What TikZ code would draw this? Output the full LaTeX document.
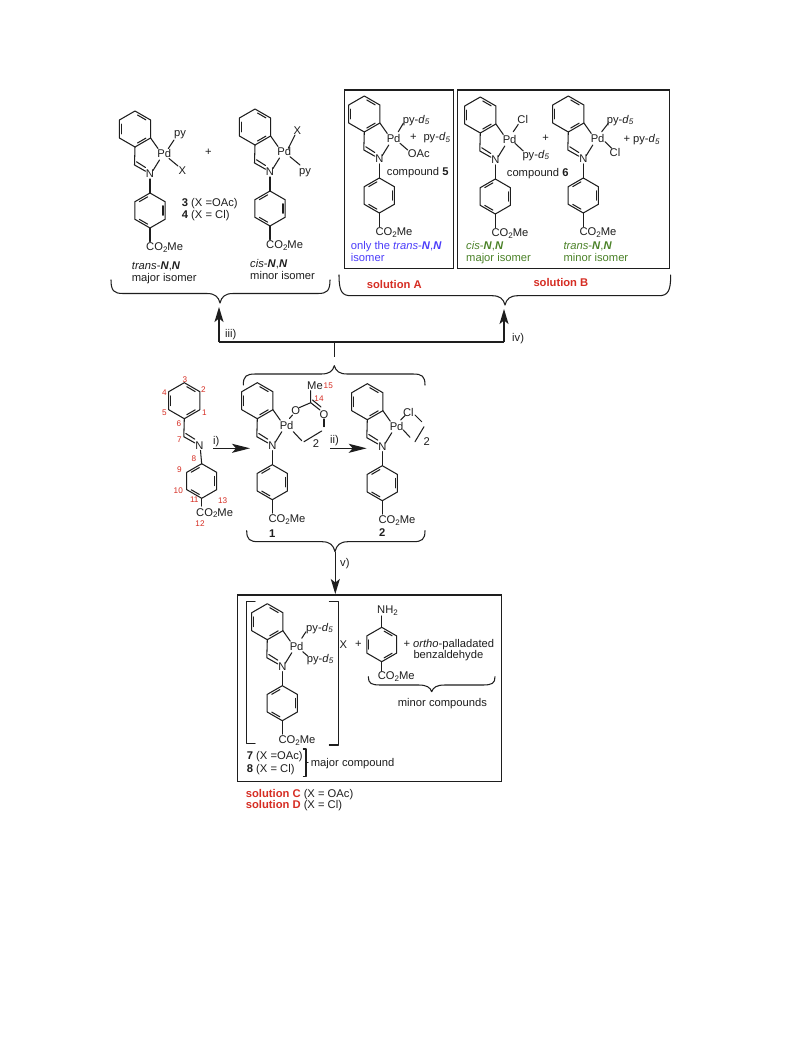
\documentclass[tikz,border=0pt]{standalone}
\usepackage{fontspec}
\setmainfont{Liberation Sans}
\usetikzlibrary{arrows.meta,calc}
\definecolor{redlab}{RGB}{214,45,35}
\definecolor{bluelab}{RGB}{75,60,250}
\definecolor{greenlab}{RGB}{75,130,40}
\definecolor{inkc}{RGB}{30,30,30}
\newcommand{\cotwome}{CO\raisebox{-.28ex}{\fontsize{8}{8}\selectfont 2}Me}
\newcommand{\pyd}{py-\textit{d}\raisebox{-.28ex}{\fontsize{8}{8}\selectfont\textit{5}}}
\newcommand{\NN}{\textbf{\textit{N}},\textbf{\textit{N}}}
\newcommand{\lab}[4][]{\node[txt,anchor=base west,#1] at (#2,#3+3.7) {#4};}
\newcommand{\cen}[4][]{\node[txt,anchor=base,#1] at (#2,#3+3.7) {#4};}
\newcommand{\num}[3]{\node[numlab] at (#1,#2) {#3};}
% hexagon: centre, radius, start angles of the double-bond edges
\newcommand{\bz}[4]{\begin{scope}[shift={(#1,#2)}]
  \draw[bond] (30:#3)--(90:#3)--(150:#3)--(210:#3)--(270:#3)--(330:#3)--cycle;
  \foreach \a in {#4}{\draw[bond] (\a+10:0.79*#3)--(\a+50:0.79*#3);}
\end{scope}}
% upper half: benzene ring, imine, N
\newcommand{\skeltop}[3]{\begin{scope}[shift={(#2,#3)}]
  \bz{-15}{-45}{18}{150,270,30}
  \draw[bond] (-15,-27)--(-15.5,-9)--(-4.5,-2.8);
  \draw[bond] (-13.5,-12.2)--(-4.5,-6.5);
  \node[txt] (#1N) at (0,0) {N};
\end{scope}}
% benzylidene-aniline skeleton, N at #2,#3
\newcommand{\skel}[3]{\skeltop{#1}{#2}{#3}\begin{scope}[shift={(#2,#3)}]
  \draw[bond] (0,5)--(0,19);
  \bz{0}{36.5}{17.5}{210,330,90}
  \draw[bond] (0,54)--(0,67.5);
  \node[txt,anchor=base west] (#1E) at (-4,76.7) {\cotwome};
\end{scope}}
\newcommand{\pd}[3]{\begin{scope}[shift={(#2,#3)}]
  \node[txt] (#1Pd) at (14.3,-20.5) {Pd};
  \draw[bond] (0.6,-36)--(8,-25.5);
  \draw[bond] (3,-3.5)--(9.5,-14);
\end{scope}}
\newcommand{\brc}[6]{% x1, xmid, x2, yend, ybar, ytip
  \draw[bond] (#1,#4) .. controls (#1,{#4+0.8*(#5-#4)}) and ({#1+3},#5) .. ({#1+12},#5)
    -- ({#2-13},#5) .. controls ({#2-5},#5) and ({#2-1.5},{#5+0.35*(#6-#5)}) .. (#2,#6)
    .. controls ({#2+1.5},{#5+0.35*(#6-#5)}) and ({#2+5},#5) .. ({#2+13},#5)
    -- ({#3-12},#5) .. controls ({#3-3},#5) and (#3,{#4+0.8*(#5-#4)}) .. (#3,#4);}
\tikzset{
  bond/.style={draw=inkc,line width=1.05pt,line join=round,line cap=round},
  conn/.style={draw=inkc,line width=1.2pt,line join=round},
  frame/.style={draw=inkc,line width=1.15pt},
  txt/.style={inner sep=0pt,text=inkc,font=\fontsize{11.2}{12}\selectfont},
  numlab/.style={inner sep=0pt,text=redlab,font=\fontsize{8.2}{9}\selectfont},
  rxn/.style={conn,-{Stealth[length=15pt,width=9pt,inset=3.5pt]}},
  rxnh/.style={conn,-{Stealth[length=18pt,width=9pt,inset=4pt]}},
}
\begin{document}
\begin{tikzpicture}[x=1pt,y=-1pt]
\useasboundingbox[fill=white] (0,0) rectangle (793,1057);

% --- frames
\draw[frame] (344.3,90) rectangle (453.3,268.3);
\draw[frame] (457.7,90) rectangle (669.3,268.3);
\draw[frame] (237.7,595) rectangle (501.7,781.7);

% --- isomers 3/4
\skel{a}{150}{174}\pd{a}{150}{174}
\draw[bond] (168.3,148.5)--(174,140); \draw[bond] (169,158.5)--(178,166);
\cen{180}{133}{py}\cen{182.3}{171}{X}\cen{208.3}{151.7}{+}
\lab{181.7}{202.7}{\textbf{3} (X =OAc)}\lab{181.7}{215}{\textbf{4} (X = Cl)}
\lab{131.7}{265.7}{\textit{trans}-\NN}\lab{131.7}{277.3}{major isomer}
\skel{b}{270}{172}\pd{b}{270}{172}
\draw[bond] (288.3,148.3)--(295,135); \draw[bond] (290,156.7)--(300,165);
\cen{297.3}{131}{X}\cen{305}{170.7}{py}
\lab{250}{264}{\textit{cis}-\NN}\lab{250}{275.7}{minor isomer}

% --- compound 5
\skel{c}{379.3}{159}\pd{c}{379.3}{159}
\draw[bond] (398.3,131.7)--(403.3,123.3); \draw[bond] (400,143.3)--(407.7,150);
\lab{402.7}{119.3}{\pyd}\cen{413.3}{136.7}{+}\lab{423.3}{136.7}{\pyd}\lab{407.7}{153.3}{OAc}
\lab{386.7}{171.7}{compound \textbf{5}}
\lab[text=bluelab]{350.7}{246}{only the \textit{trans}-\NN}\lab[text=bluelab]{350.7}{257.7}{isomer}

% --- compound 6
\skel{d}{495.3}{160}\pd{d}{495.3}{160}
\draw[bond] (513.3,131.7)--(518.3,124.3); \draw[bond] (515,143.3)--(523.3,151);
\cen{522.7}{119.3}{Cl}\lab{522.3}{154.3}{\pyd}\cen{545.7}{137.7}{+}
\lab{506.7}{173}{compound \textbf{6}}
\lab[text=greenlab]{466}{246}{\textit{cis}-\NN}\lab[text=greenlab]{466}{257.7}{major isomer}
\skel{e}{583.3}{159}\pd{e}{583.3}{159}
\draw[bond] (601.7,131.7)--(608.3,123.3); \draw[bond] (605,141.7)--(611.7,148.3);
\lab{606.7}{119.3}{\pyd}\cen{615}{152.7}{Cl}\lab{623.3}{139}{+ \pyd}
\lab[text=greenlab]{563.3}{246}{\textit{trans}-\NN}\lab[text=greenlab]{563.3}{257.7}{minor isomer}

\lab[text=redlab,font=\fontsize{11.2}{12}\selectfont\bfseries]{366.7}{284.3}{solution A}
\lab[text=redlab,font=\fontsize{11.2}{12}\selectfont\bfseries]{533.3}{282.3}{solution B}

% --- braces
\brc{111}{220}{330}{280}{293.5}{303}
\brc{339}{505}{670.7}{275}{295.7}{305}
\brc{243.3}{334.3}{425}{385}{374}{365.7}
\brc{246.7}{335}{425}{530.7}{541.7}{551.7}
\brc{368.3}{431.7}{495}{676.7}{685}{691.7}

% --- connectors
\coordinate (upL) at (219,342);
\coordinate (upR) at (504,342);
\coordinate (tipL) at (219,307);
\coordinate (tipR) at (504,309);
\coordinate (stemT) at (334.3,343);
\coordinate (stemB) at (334.3,357);
\coordinate (vS) at (335.3,552);
\coordinate (vE) at (335.3,594);
\coordinate (iS) at (213.3,448.3);
\coordinate (iE) at (250,448.3);
\coordinate (iiS) at (330,448.3);
\coordinate (iiE) at (366.7,448.3);
\draw[conn] (upL)--(upR);
\draw[conn] (stemT)--(stemB);
\draw[rxn] (upL)--(tipL);
\draw[rxn] (upR)--(tipR);
\draw[rxn] (vS)--(vE);
\draw[rxnh] (iS)--(iE);
\draw[rxnh] (iiS)--(iiE);
\lab{225}{333.5}{iii)}\lab{512}{338}{iv)}\lab{340}{562.7}{v)}
\lab{213}{441}{i)}\lab{330}{440}{ii)}

% --- free imine
\skeltop{f}{199.3}{445.7}
\draw[bond] (200.5,450.5)--(201.7,464);
\bz{201.7}{481}{17.3}{210,330,90}
\draw[bond] (201.7,498.3)--(201.7,506);
\node[txt,anchor=base west] (fE) at (196,516) {\cotwome};
\num{185}{379.3}{3}\num{203.3}{389.3}{2}\num{164.3}{393}{4}\num{164.3}{412.3}{5}
\num{204.3}{412.7}{1}\num{179}{424}{6}\num{179.3}{440}{7}\num{194}{459}{8}
\num{179.3}{470}{9}\num{178.3}{490.7}{10}\num{194.3}{500}{11}\num{222.7}{501}{13}
\num{200}{524}{12}

% --- compound 1
\skel{g}{272.3}{445.7}\pd{g}{272.3}{445.7}
\num{328.3}{386}{15}\num{319}{398.3}{14}
\cen{315}{385.3}{Me}\cen{295.7}{410.7}{O}\cen{324}{414.3}{O}
\draw[bond] (289.5,418.5)--(292.5,415);
\draw[bond] (299.5,407.5)--(310.7,402.7)--(310.7,390.7);
\draw[bond] (310.7,402.7)--(320,410);
\draw[bond] (312.5,400)--(321,407);
\draw[bond] (324,419)--(324,426.7);
\draw[bond] (293.3,431.7)--(301.7,440.7);
\draw[bond] (304,441.7)--(321.7,431);
\cen{316}{443.3}{2}
\cen{272.3}{534}{\textbf{1}}

% --- compound 2
\skel{h}{382.3}{446.7}\pd{h}{382.3}{446.7}
\cen{408.3}{412.7}{Cl}
\draw[bond] (400.7,420)--(405,415.5);
\draw[bond] (415,415)--(421.7,421.7);
\draw[bond] (403.3,430)--(410,437.3);
\draw[bond] (415,441.7)--(424,426.7);
\cen{426.7}{441.7}{2}
\cen{382.3}{532.7}{\textbf{2}}

% --- box C
\skel{k}{282.3}{666.7}\pd{k}{282.3}{666.7}
\draw[bond] (301.7,638.3)--(306,631.7); \draw[bond] (302.7,651.7)--(307.7,656);
\lab{306}{627.3}{\pyd}\lab{306.7}{658.3}{\pyd}
\draw[bond] (255,601.7)--(246.7,601.7)--(246.7,743.3)--(255,743.3);
\draw[bond] (329.3,601.7)--(338.3,601.7)--(338.3,745)--(329.3,745);
\cen{343.3}{644.3}{X}\cen{358.3}{643.3}{+}
\lab{403.3}{643.3}{+ \textit{ortho}-palladated}\lab{413.3}{655}{benzaldehyde}
\node[txt,anchor=base west] (nh) at (377,613.5) {NH\raisebox{-.28ex}{\fontsize{8}{8}\selectfont 2}};
\draw[bond] (381.7,616)--(381.7,627.3);
\bz{381.7}{644.5}{17.2}{150,270,30}
\draw[bond] (381.7,661.7)--(381.7,671);
\lab{377.7}{676}{\cotwome}
\lab{397.7}{702.7}{minor compounds}
\lab{246.7}{756}{\textbf{7} (X =OAc)}\lab{246.7}{768.3}{\textbf{8} (X = Cl)}
\draw[bond] (303.3,749)--(306,749)--(306,776.7)--(303.3,776.7);
\draw[bond] (306,762.5)--(308,762.5);
\lab{310.7}{762.3}{major compound}
\lab{245.7}{793.3}{\textcolor{redlab}{\textbf{solution C}} (X = OAc)}
\lab{245.7}{805}{\textcolor{redlab}{\textbf{solution D}} (X = Cl)}
\end{tikzpicture}
\end{document}
